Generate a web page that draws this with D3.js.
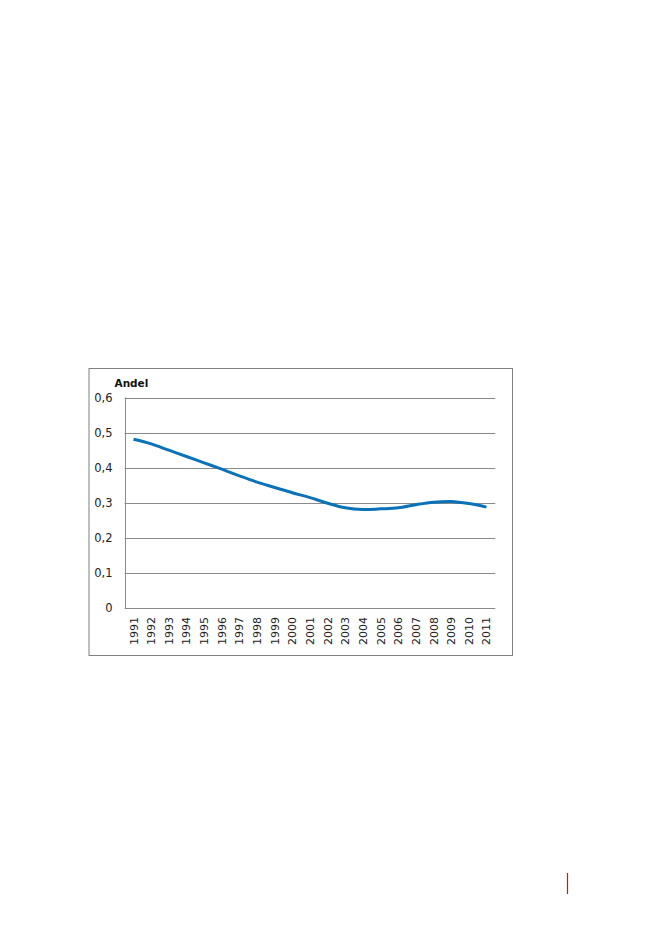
<!DOCTYPE html>
<html><head><meta charset="utf-8">
<script src="https://cdn.jsdelivr.net/npm/d3@7"></script>
<style>body{margin:0;background:#fff}svg{display:block}</style>
</head><body>
<svg id="c" width="661" height="933"></svg>
<script>
const years = ["1991","1992","1993","1994","1995","1996","1997","1998","1999","2000","2001","2002","2003","2004","2005","2006","2007","2008","2009","2010","2011"];
const andel = [0.481,0.468,0.450,0.432,0.414,0.396,0.377,0.359,0.344,0.329,0.315,0.299,0.286,0.281,0.283,0.286,0.295,0.302,0.304,0.298,0.288];
const yTicks = [0,0.1,0.2,0.3,0.4,0.5,0.6];
const yTickLabels = ["0","0,1","0,2","0,3","0,4","0,5","0,6"];
const yTitle = "Andel";

(function(){
const svg = d3.select("#c");
const pLeft = 124.7, pRight = 495.3, pTop = 397.5, pBottom = 608.3;
const x = d3.scaleBand().domain(years).range([pLeft, pRight]);
const y = d3.scaleLinear().domain([0, 0.6]).range([pBottom, pTop]);

// outer chart frame
svg.append("rect").attr("x", 89).attr("y", 368.5).attr("width", 423.5).attr("height", 287)
  .attr("fill", "#fff").attr("stroke", "#808080").attr("stroke-width", 1);

// gridlines
svg.append("g").selectAll("line").data(yTicks).join("line")
  .attr("x1", pLeft).attr("x2", pRight)
  .attr("y1", d => Math.round(y(d)) + 0.5).attr("y2", d => Math.round(y(d)) + 0.5)
  .attr("stroke", "#8a8a8a").attr("stroke-width", 1);

// left axis line
svg.append("line").attr("x1", Math.round(pLeft) + 0.5).attr("x2", Math.round(pLeft) + 0.5)
  .attr("y1", y(0.6)).attr("y2", y(0) + 0.5).attr("stroke", "#8a8a8a");

// y tick labels
svg.append("g").selectAll("text").data(yTicks).join("text")
  .attr("x", 112.5).attr("y", d => y(d)).attr("dy", "0.35em")
  .attr("text-anchor", "end")
  .attr("font-family", "DejaVu Sans").attr("font-size", 11.5).attr("fill", "#222")
  .text((d, i) => yTickLabels[i]);

// y title
svg.append("text").attr("x", 114.5).attr("y", 386.5)
  .attr("font-family", "DejaVu Sans").attr("font-weight", "bold").attr("font-size", 10.5)
  .attr("fill", "#111").text(yTitle);

// x labels rotated
svg.append("g").selectAll("text").data(years).join("text")
  .attr("transform", d => `translate(${x(d) + x.bandwidth() / 2 + 4},617) rotate(-90)`)
  .attr("text-anchor", "end")
  .attr("font-family", "DejaVu Sans").attr("font-size", 11).attr("fill", "#222")
  .text(d => d);

// line
const line = d3.line()
  .x((d, i) => x(years[i]) + x.bandwidth() / 2)
  .y(d => y(d))
  .curve(d3.curveCatmullRom.alpha(0.5));
svg.append("path").datum(andel).attr("d", line)
  .attr("fill", "none").attr("stroke", "#0a72b8").attr("stroke-width", 3)
  .attr("stroke-linecap", "butt");

// page marker
svg.append("line").attr("x1", 567.5).attr("x2", 567.5).attr("y1", 873).attr("y2", 894)
  .attr("stroke", "#b81c1c").attr("stroke-width", 1.2);
})();
</script>
</body></html>
